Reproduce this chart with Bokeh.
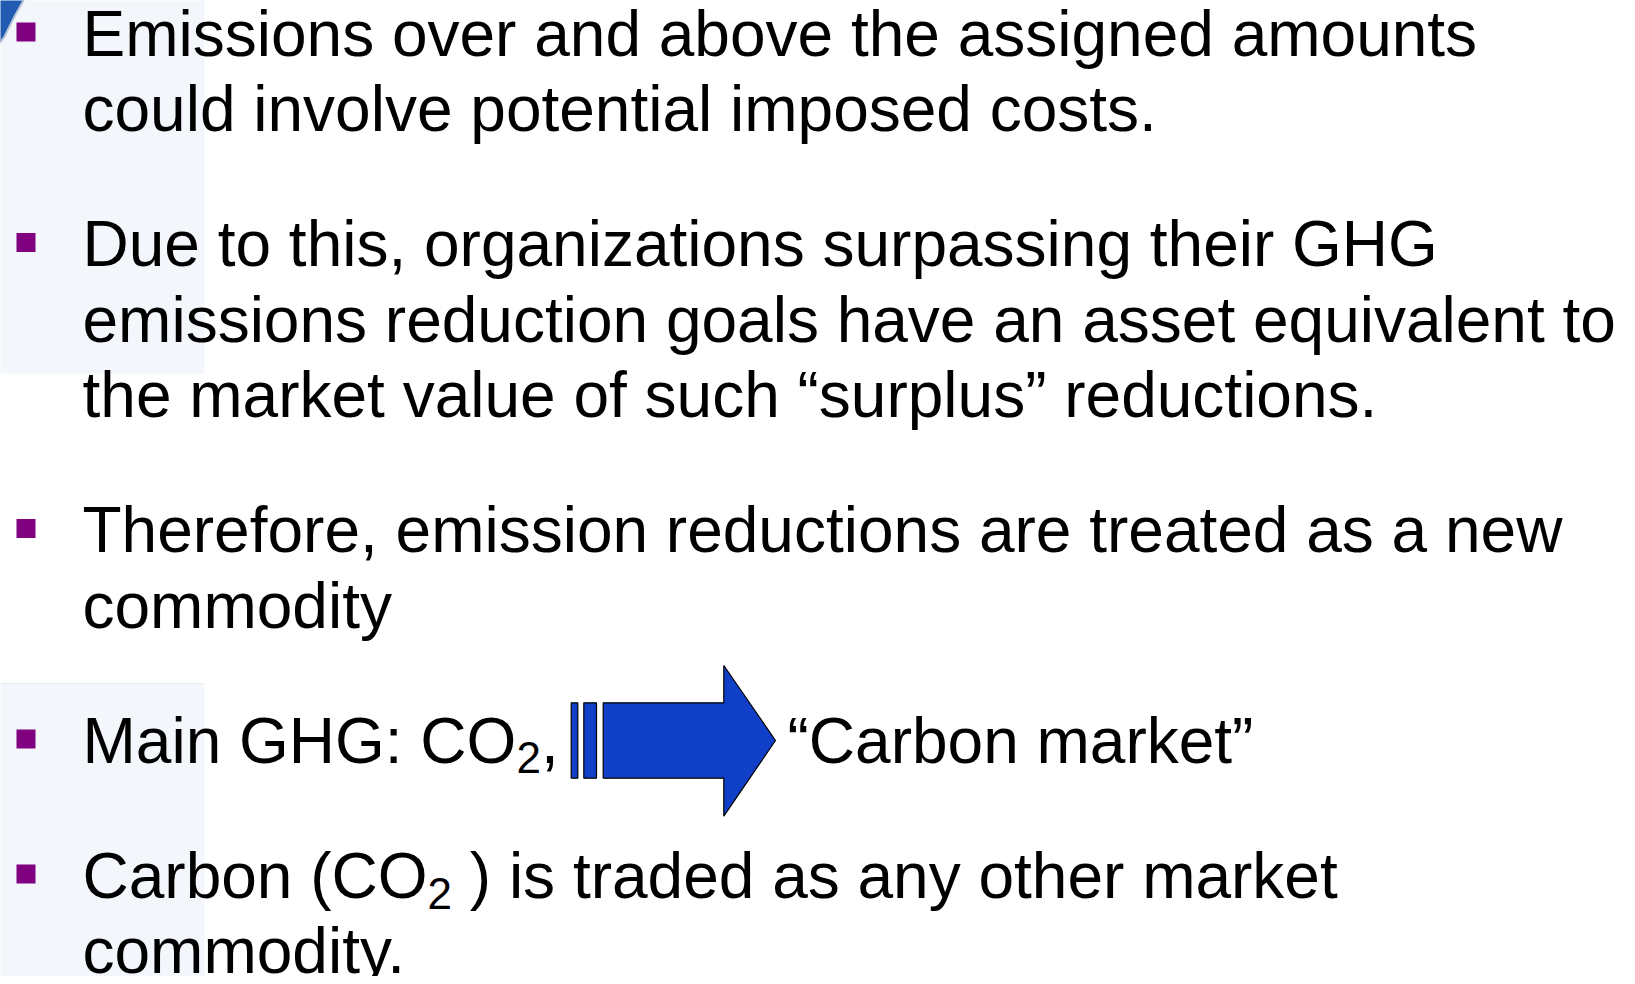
from bokeh.plotting import figure
from bokeh.models import Range1d
from bokeh.core.properties import value
from bokeh.embed import file_html
from bokeh.resources import INLINE

# ---- content ----
paragraphs = [
    ["Emissions over and above the assigned amounts",
     "could involve potential imposed costs."],
    ["Due to this, organizations surpassing their GHG",
     "emissions reduction goals have an asset equivalent to",
     "the market value of such \u201csurplus\u201d reductions."],
    ["Therefore, emission reductions are treated as a new",
     "commodity"],
]
line4_parts = ["Main GHG: CO", "2", ","]
arrow_label = "\u201cCarbon market\u201d"
line5_parts = ["Carbon (CO", "2", ") is traded as any other market"]
line6 = "commodity."

# ---- layout (reference pixel coordinates) ----
W, H = 1619, 976
FONT = value("Liberation Sans")
FS_PX = 64
SUB_PX = 44
TEXT_X = 82
FIRST_BASE = 57
LINE_STEP = 75.5
PARA_STEP = 135
BULLET_DY = 25.5
BULLET_SIZE = 19
PANEL = "#F3F7FB"
PURPLE = "#800080"
ARROW_BLUE = "#1040C8"
BASE_CORR = 0.375  # renderer baseline correction (em)

p = figure(width=W, height=H, x_range=Range1d(0, W), y_range=Range1d(H, 0),
           output_backend="svg", toolbar_location=None, min_border=0,
           x_axis_location=None, y_axis_location=None)
p.grid.visible = False
p.outline_line_color = None
p.background_fill_color = "white"
p.border_fill_color = "white"


def txt(x, base, s, px):
    p.text(x=[x], y=[base - BASE_CORR * px], text=[s], text_font=FONT,
           text_font_size=f"{px}px", text_baseline="alphabetic", text_color="black")


# left light panels
p.quad(left=[-5, -5], right=[204, 204], top=[-5, 683], bottom=[373, 1000],
       fill_color=PANEL, line_color=None)
p.segment(x0=[0], y0=[683], x1=[204], y1=[683], line_color="#EAEDF0", line_width=1)

# corner swoosh
p.patch(x=[-2, 6, 24, 14, 4, -2], y=[-2, -2, -2, 16, 36, 44], fill_color="#1F5BB0",
        line_color="#B8C4D4", line_width=2)

# compute baselines
bases = []
para_bases = []
b = FIRST_BASE
for para in paragraphs:
    para_bases.append(b)
    for i, line in enumerate(para):
        bases.append((line, b + i * LINE_STEP))
    b = b + (len(para) - 1) * LINE_STEP + PARA_STEP
base4 = b
base5 = base4 + PARA_STEP
base6 = base5 + LINE_STEP
para_bases += [base4, base5]

# bullets
for pb in para_bases:
    cy = pb - BULLET_DY
    p.quad(left=[16], right=[16 + BULLET_SIZE], top=[cy - BULLET_SIZE / 2],
           bottom=[cy + BULLET_SIZE / 2], fill_color=PURPLE, line_color=None)

# main lines
for line, bb in bases:
    txt(TEXT_X, bb, line, FS_PX)

# line 4 with subscript
txt(TEXT_X, base4, line4_parts[0], FS_PX)
txt(516, base4 + 9, line4_parts[1], SUB_PX)
txt(540.5, base4, line4_parts[2], FS_PX)

# arrow
p.quad(left=[570.7, 583.3], right=[577.3, 596], top=[702.3, 702.3], bottom=[777.7, 777.7],
       fill_color=ARROW_BLUE, line_color="black", line_width=1.2)
p.patch(x=[602.7, 723.3, 723.3, 775, 723.3, 723.3, 602.7],
        y=[702.3, 702.3, 665, 740, 815.7, 777.7, 777.7],
        fill_color=ARROW_BLUE, line_color="black", line_width=1.2)
txt(787, base4, arrow_label, FS_PX)

# line 5 with subscript
txt(TEXT_X, base5, line5_parts[0], FS_PX)
txt(427, base5 + 10, line5_parts[1], SUB_PX)
txt(469.3, base5, line5_parts[2], FS_PX)
txt(TEXT_X, base6, line6, FS_PX)

open("out.html", "w").write(file_html(p, INLINE))
